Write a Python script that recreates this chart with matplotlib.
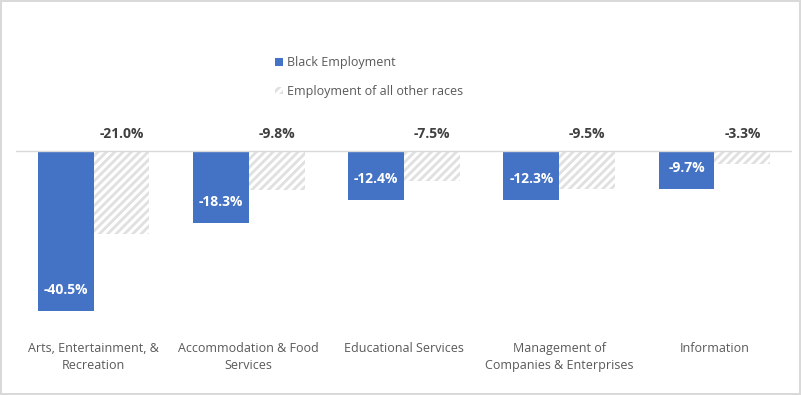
import matplotlib
matplotlib.use("Agg")
import matplotlib.pyplot as plt
import numpy as np

categories = ["Arts, Entertainment, &\nRecreation", "Accommodation & Food\nServices",
              "Educational Services", "Management of\nCompanies & Enterprises", "Information"]
black_emp = [-40.5, -18.3, -12.4, -12.3, -9.7]
other_emp = [-21.0, -9.8, -7.5, -9.5, -3.3]
series_names = ["Black Employment", "Employment of all other races"]

plt.rcParams['font.family'] = ['Open Sans', 'DejaVu Sans']
plt.rcParams['hatch.linewidth'] = 2.0

W, H = 801, 395
fig = plt.figure(figsize=(W/100, H/100), dpi=100)
fig.patch.set_facecolor('white')
fig.patch.set_edgecolor('#d9d9d9')
fig.patch.set_linewidth(1.5)

# axes in pixel coordinates
left, right, top, bottom = 16, 792, 100, 320
ax = fig.add_axes([left/W, 1-bottom/H, (right-left)/W, (bottom-top)/H])
px_per = 3.95
ax.set_ylim(-(bottom-151)/px_per, (151-top)/px_per)
x = np.arange(len(categories))
ax.set_xlim(-0.5, len(categories)-0.5)
bw = 0.36
b1 = ax.bar(x-bw/2, black_emp, bw, color='#4472C4', label=series_names[0])
b2 = ax.bar(x+bw/2, other_emp, bw, color='white', edgecolor='#e0e0e0', hatch='////',
            linewidth=0, label=series_names[1])
ax.axhline(0, color='#d9d9d9', lw=1)
for s in ax.spines.values():
    s.set_visible(False)
ax.set_yticks([])
ax.set_xticks(x)
ax.set_xticklabels(categories, fontsize=9, color='#595959', linespacing=1.45)
ax.tick_params(axis='x', length=0, pad=15.5)

for xi, v in zip(x, black_emp):
    ax.annotate(f"{v:.1f}%", (xi-bw/2, v), xytext=(0, 21), textcoords='offset pixels',
                ha='center', va='center', color='white', fontsize=10, fontweight='bold')
for xi, v in zip(x, other_emp):
    ax.annotate(f"{v:.1f}%", (xi+bw/2, 0), xytext=(0, 17), textcoords='offset pixels',
                ha='center', va='center', color='#404040', fontsize=10, fontweight='bold')

leg = fig.legend(handles=[b1, b2], loc='upper left', bbox_to_anchor=(264/W, 1-45/H),
                 frameon=False, fontsize=9, labelcolor='#595959', handlelength=0.6,
                 handleheight=0.6, handletextpad=0.35, labelspacing=1.25)

fig.savefig("out.png", dpi=100, facecolor=fig.get_facecolor(), edgecolor=fig.get_edgecolor())
